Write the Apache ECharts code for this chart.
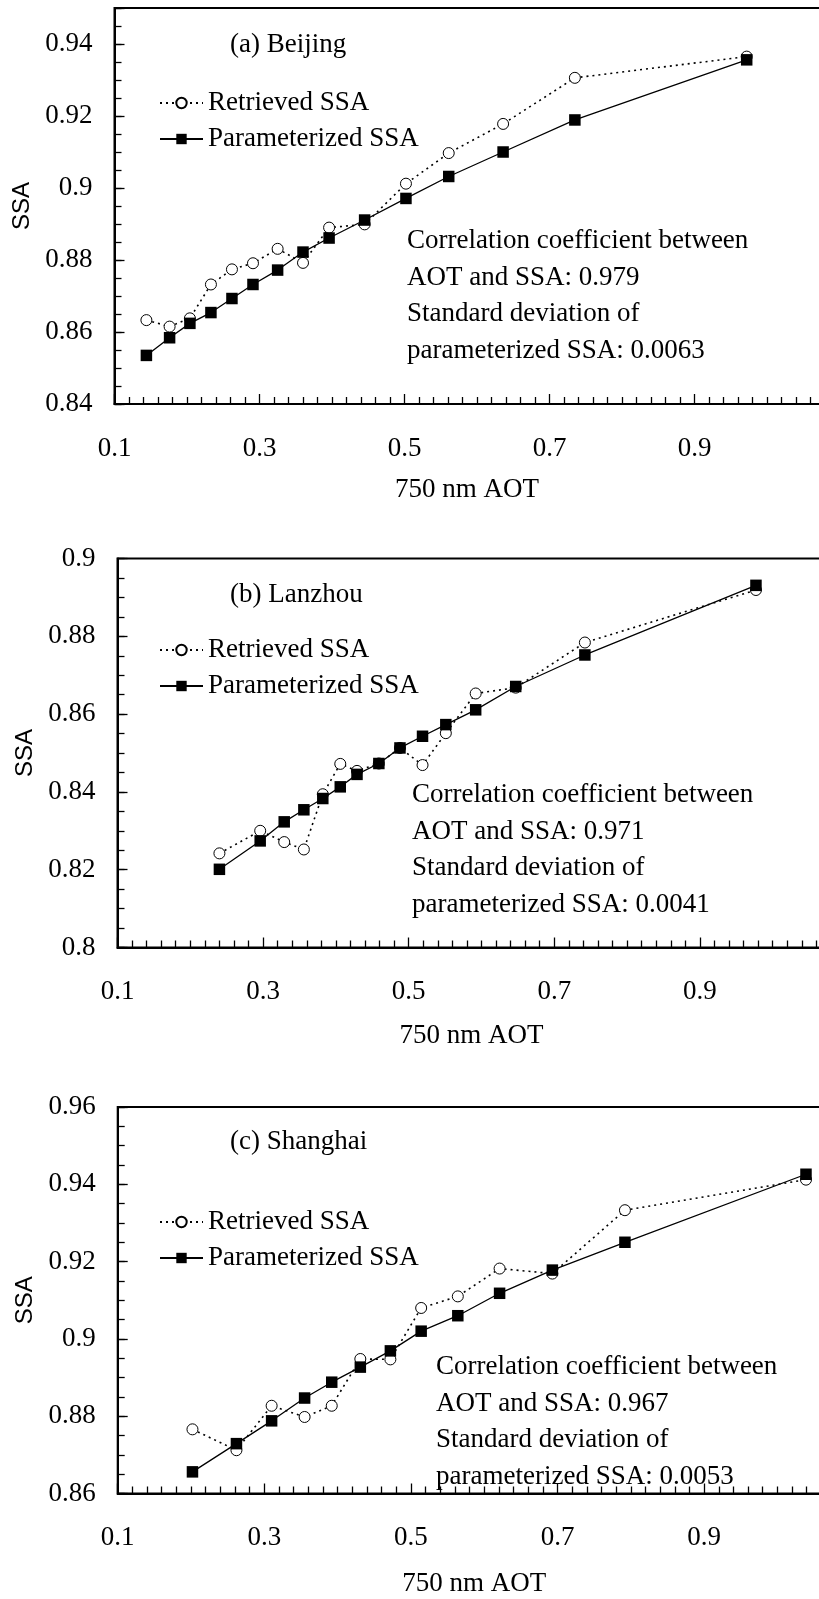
<!DOCTYPE html>
<html>
<head>
<meta charset="utf-8">
<title>SSA vs 750 nm AOT</title>
<script src="https://cdn.jsdelivr.net/npm/echarts@6/dist/echarts.min.js"></script>
<style>
  html, body { margin: 0; padding: 0; background: #fff; }
  #main { width: 819px; height: 1599px; }
</style>
</head>
<body>
<div id="main"></div>
<script>
// 750 nm AOT (x) and SSA (y)
var beijingAot = [0.144, 0.176, 0.204, 0.233, 0.262, 0.291, 0.325, 0.360, 0.396, 0.445, 0.502, 0.561, 0.636, 0.735, 0.972];
var beijingRetrieved = [0.8633, 0.8615, 0.8638, 0.8732, 0.8774, 0.8791, 0.8831, 0.8792, 0.8890, 0.8899, 0.9012, 0.9097, 0.9178, 0.9306, 0.9365];
var beijingParam = [0.8535, 0.8584, 0.8624, 0.8654, 0.8693, 0.8732, 0.8772, 0.8822, 0.8861, 0.8911, 0.8971, 0.9032, 0.9100, 0.9189, 0.9356];

var lanzhouAot = [0.240, 0.296, 0.329, 0.356, 0.382, 0.406, 0.429, 0.459, 0.488, 0.519, 0.551, 0.592, 0.647, 0.742, 0.977];
var lanzhouRetrieved = [0.8242, 0.8300, 0.8271, 0.8252, 0.8394, 0.8472, 0.8454, 0.8473, 0.8513, 0.8469, 0.8551, 0.8653, 0.8668, 0.8784, 0.8919];
var lanzhouParam = [0.8201, 0.8274, 0.8323, 0.8354, 0.8383, 0.8413, 0.8445, 0.8473, 0.8513, 0.8543, 0.8573, 0.8611, 0.8671, 0.8752, 0.8931];

var shanghaiAot = [0.202, 0.262, 0.310, 0.355, 0.392, 0.431, 0.472, 0.514, 0.564, 0.621, 0.693, 0.792, 1.039];
var shanghaiRetrieved = [0.8766, 0.8712, 0.8827, 0.8798, 0.8827, 0.8948, 0.8947, 0.9080, 0.9110, 0.9182, 0.9169, 0.9333, 0.9412];
var shanghaiParam = [0.8656, 0.8729, 0.8788, 0.8847, 0.8888, 0.8927, 0.8969, 0.9020, 0.9060, 0.9118, 0.9178, 0.9250, 0.9426];

var xTickLabels = ['0.1', '0.3', '0.5', '0.7', '0.9'];
var cityLabels = ['(a) Beijing', '(b) Lanzhou', '(c) Shanghai'];
var correlations = ['0.979', '0.971', '0.967'];
var stdDevs = ['0.0063', '0.0041', '0.0053'];

var serif = '"Liberation Serif", "Times New Roman", serif';
var sans = '"Liberation Sans", Arial, sans-serif';

// the plot boxes run past the right edge of the page, as in the source figure
var panels = [
  { aot: beijingAot, ret: beijingRetrieved, par: beijingParam,
    left: 114.5, top: 8, width: 725, height: 396, yMin: 0.84, yMax: 0.95,
    titleY: 45, legendTop: 89.5, noteX: 407, noteY: 241, nameGap: 72 },
  { aot: lanzhouAot, ret: lanzhouRetrieved, par: lanzhouParam,
    left: 117.5, top: 558.5, width: 728, height: 389, yMin: 0.8, yMax: 0.9,
    titleY: 595, legendTop: 636.5, noteX: 412, noteY: 795, nameGap: 75 },
  { aot: shanghaiAot, ret: shanghaiRetrieved, par: shanghaiParam,
    left: 117.7, top: 1107, width: 733, height: 386.5, yMin: 0.86, yMax: 0.96,
    titleY: 1142, legendTop: 1208.5, noteX: 436, noteY: 1367, nameGap: 77 }
];

function pairs(xs, ys) {
  return xs.map(function (x, i) { return [x, ys[i]]; });
}

var option = {
  animation: false,
  backgroundColor: '#fff',
  grid: [], xAxis: [], yAxis: [], legend: [], series: [], graphic: []
};

panels.forEach(function (p, i) {
  option.grid.push({
    left: p.left, top: p.top, width: p.width, height: p.height,
    outerBoundsMode: 'none', containLabel: false,
    show: true, borderColor: '#000', borderWidth: 2, backgroundColor: 'transparent'
  });

  option.xAxis.push({
    type: 'value', gridIndex: i, min: 0.1, max: 1.1, interval: 0.2,
    name: '750 nm AOT', nameLocation: 'middle', nameGap: p.nameGap,
    nameTextStyle: { fontFamily: serif, fontSize: 27, color: '#000', padding: [0, 20, 0, 0] },
    axisLine: { lineStyle: { color: '#000', width: 2 } },
    axisTick: { inside: true, length: 10, lineStyle: { color: '#000', width: 1.3 } },
    minorTick: { show: true, splitNumber: 10, length: 7, lineStyle: { color: '#000', width: 1.3 } },
    axisLabel: {
      margin: 31, fontFamily: serif, fontSize: 27, color: '#000',
      formatter: function (v) {
        var s = String(Math.round(v * 10) / 10);
        return xTickLabels.indexOf(s) >= 0 ? s : '';
      }
    },
    splitLine: { show: false }
  });

  // labelled axis, long ticks every 0.02
  option.yAxis.push({
    type: 'value', gridIndex: i, position: 'left', min: p.yMin, max: p.yMax, interval: 0.02,
    name: 'SSA', nameLocation: 'middle', nameGap: 77,
    nameTextStyle: { fontFamily: sans, fontSize: 24, color: '#000' },
    axisLine: { show: true, lineStyle: { color: '#000', width: 2 } },
    axisTick: { inside: true, length: 10, lineStyle: { color: '#000', width: 1.3 } },
    axisLabel: {
      margin: 22, fontFamily: serif, fontSize: 27, color: '#000',
      formatter: function (v) {
        var k = v / 0.02;
        if (Math.abs(k - Math.round(k)) > 1e-6) return '';
        return String(Math.round(v * 100) / 100);
      }
    },
    splitLine: { show: false }
  });
  // short ticks every 0.005
  option.yAxis.push({
    type: 'value', gridIndex: i, position: 'left', min: p.yMin, max: p.yMax, interval: 0.005,
    axisLine: { show: false },
    axisTick: { inside: true, length: 7, lineStyle: { color: '#000', width: 1.3 } },
    axisLabel: { show: false },
    splitLine: { show: false }
  });

  option.series.push({
    name: 'Retrieved SSA', type: 'line', xAxisIndex: i, yAxisIndex: 2 * i,
    data: pairs(p.aot, p.ret),
    symbol: 'circle', symbolSize: 11,
    itemStyle: { color: '#fff', borderColor: '#000', borderWidth: 1 },
    lineStyle: { color: '#000', width: 1.6, type: [2, 4] },
    z: 2
  });
  option.series.push({
    name: 'Parameterized SSA', type: 'line', xAxisIndex: i, yAxisIndex: 2 * i,
    data: pairs(p.aot, p.par),
    symbol: 'rect', symbolSize: 11.5,
    itemStyle: { color: '#000' },
    lineStyle: { color: '#000', width: 1.3, type: 'solid' },
    z: 3
  });

  option.legend.push({
    data: ['Retrieved SSA', 'Parameterized SSA'],
    orient: 'vertical', left: 159, top: p.legendTop, padding: 0,
    itemWidth: 43, itemHeight: 13, itemGap: 9,
    selectedMode: false,
    textStyle: { fontFamily: serif, fontSize: 27, color: '#000' }
  });

  option.graphic.push({
    type: 'text', x: 230, y: p.titleY,
    style: { text: cityLabels[i], fontFamily: serif, fontSize: 27, fill: '#000', verticalAlign: 'middle' }
  });
  option.graphic.push({
    type: 'text', x: p.noteX, y: p.noteY - 18.25,
    style: {
      text: 'Correlation coefficient between\nAOT and SSA: ' + correlations[i] +
            '\nStandard deviation of\nparameterized SSA: ' + stdDevs[i],
      fontFamily: serif, fontSize: 27, lineHeight: 36.5, fill: '#000', verticalAlign: 'top'
    }
  });
});

var chart = echarts.init(document.getElementById('main'));
chart.setOption(option);
</script>
</body>
</html>
